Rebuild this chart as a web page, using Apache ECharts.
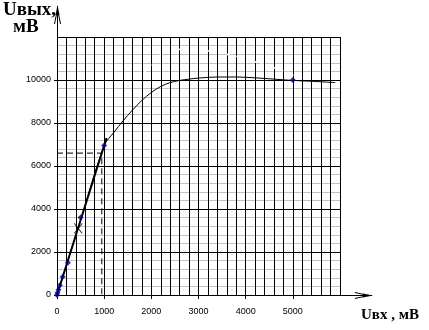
<!DOCTYPE html>
<html><head><meta charset="utf-8">
<script src="https://cdn.jsdelivr.net/npm/echarts@6/dist/echarts.min.js"></script>
<style>html,body{margin:0;padding:0;background:#fff}#c{width:429px;height:330px}</style>
</head><body><div id="c"></div>
<script>
// Tick labels
const xTicks = [0, 1000, 2000, 3000, 4000, 5000];
const yTicks = [0, 2000, 4000, 6000, 8000, 10000];
// Main thin transfer curve
const curveX = [0, 500, 1000, 1200, 1400, 1600, 1800, 2000, 2200, 2400, 2600, 2800, 3000, 3400, 3800, 4200, 4600, 5000, 5400, 5900];
const curveY = [0, 3480, 6950, 7550, 8100, 8600, 9050, 9420, 9700, 9880, 9980, 10040, 10090, 10140, 10140, 10100, 10040, 9980, 9940, 9880];
// Thick linear segment
const lineX = [0, 1050];
const lineY = [0, 7300];
// Measured points
const pointX = [0, 10, 30, 60, 120, 230, 500, 1000, 5000];
const pointY = [0, 100, 250, 450, 850, 1500, 3600, 6950, 10000];
// Cross mark
const crossX = [450];
const crossY = [3100];
// Dashed construction lines
const dashX = [0, 950, 950];
const dashY = [6600, 6600, 0];
// Faint white dotted curve above plateau
const ghostX = [1860, 2000, 2210, 2390, 2640, 3020, 3380, 3730, 4010, 4290, 4640, 5000, 5200];
const ghostY = [10370, 10730, 11200, 11350, 11430, 11400, 11290, 11130, 10980, 10780, 10540, 10260, 10110];

const zip = (a, b) => a.map((v, i) => [v, b[i]]);
const chart = echarts.init(document.getElementById('c'), null, {renderer: 'canvas'});
const axisFont = 'Liberation Sans';
const option = {
  animation: false,
  backgroundColor: '#fff',
  grid: {left: 57, top: 37, width: 283, height: 258},
  xAxis: {
    type: 'value', min: 0, max: 6000, interval: 1000,
    axisLine: {show: true, onZero: false, lineStyle: {color: '#000', width: 1}},
    axisTick: {show: true, length: 4, lineStyle: {color: '#000'}},
    axisLabel: {margin: 12, fontSize: 9, fontFamily: axisFont, color: '#000', showMaxLabel: false,
      formatter: v => xTicks.includes(v) ? String(v) : ''},
    splitLine: {show: true, lineStyle: {color: '#000', width: 1}},
    minorTick: {show: false, splitNumber: 5},
    minorSplitLine: {show: true, lineStyle: {color: '#000', width: 1}}
  },
  yAxis: {
    type: 'value', min: 0, max: 12000, interval: 2000,
    axisLine: {show: true, onZero: false, lineStyle: {color: '#000', width: 1}},
    axisTick: {show: true, length: 3, lineStyle: {color: '#000'}},
    axisLabel: {margin: 6, fontSize: 9, fontFamily: axisFont, color: '#000', showMaxLabel: false,
      formatter: v => yTicks.includes(v) ? String(v) : ''},
    splitLine: {show: true, lineStyle: {color: '#000', width: 1}},
    minorTick: {show: false, splitNumber: 5},
    minorSplitLine: {show: true, lineStyle: {color: '#c0c0c0', width: 1}}
  },
  series: [
    {type: 'line', data: zip(ghostX, ghostY), smooth: 0.4, symbol: 'none',
      lineStyle: {color: '#fff', width: 1.5, type: [3, 4]}, z: 2},
    {type: 'line', data: zip(dashX, dashY), symbol: 'none',
      lineStyle: {color: '#000', width: 1, type: [6, 4]}, z: 3},
    {type: 'line', data: zip(curveX, curveY), smooth: 0.35, symbol: 'none',
      lineStyle: {color: '#000', width: 1}, z: 4},
    {type: 'line', data: zip(lineX, lineY), symbol: 'none',
      lineStyle: {color: '#000', width: 2}, z: 5},
    {type: 'scatter', data: zip(pointX, pointY), symbol: 'diamond', symbolSize: 6,
      itemStyle: {color: '#000080'}, z: 6},
    {type: 'scatter', data: zip(crossX, crossY), symbol: 'path://M0 0L10 12M10 0L0 12', symbolSize: [8, 10],
      itemStyle: {color: 'none', borderColor: '#000', borderWidth: 1}, z: 6}
  ]
};
chart.setOption(option);

const o = chart.convertToPixel({gridIndex: 0}, [0, 0]);
const tr = chart.convertToPixel({gridIndex: 0}, [6000, 12000]);
const ox = Math.round(o[0]) + 0.5, oy = Math.round(o[1]) + 0.5;
const ty = Math.round(tr[1]), rx = Math.round(tr[0]);
const black = {stroke: '#000', lineWidth: 1};
chart.setOption({
  graphic: [
    {type: 'line', shape: {x1: ox, y1: ty, x2: ox, y2: 6}, style: black},
    {type: 'polygon', shape: {points: [[ox, 5], [ox - 2, 15], [ox + 2, 15]]}, style: {fill: '#000'}},
    {type: 'line', shape: {x1: ox - 1, y1: 14, x2: ox - 3, y2: 24}, style: black},
    {type: 'line', shape: {x1: ox + 1, y1: 14, x2: ox + 3, y2: 24}, style: black},
    {type: 'line', shape: {x1: rx, y1: oy, x2: 372, y2: oy}, style: black},
    {type: 'polygon', shape: {points: [[373, oy], [363, oy - 2], [363, oy + 2]]}, style: {fill: '#000'}},
    {type: 'line', shape: {x1: 364, y1: oy - 1, x2: 355, y2: oy - 3}, style: black},
    {type: 'line', shape: {x1: 364, y1: oy + 1, x2: 355, y2: oy + 3}, style: black},
    {type: 'text', style: {text: 'Uвых,', x: 3, y: 10, font: 'bold 19px "Liberation Serif"', fill: '#000', verticalAlign: 'middle'}},
    {type: 'text', style: {text: 'мВ', x: 13, y: 27, font: 'bold 19px "Liberation Serif"', fill: '#000', verticalAlign: 'middle'}},
    {type: 'text', style: {text: 'Uвх , мВ', x: 361, y: 315, font: 'bold 15px "Liberation Serif"', fill: '#000', verticalAlign: 'middle'}}
  ]
});
</script>
</body></html>
